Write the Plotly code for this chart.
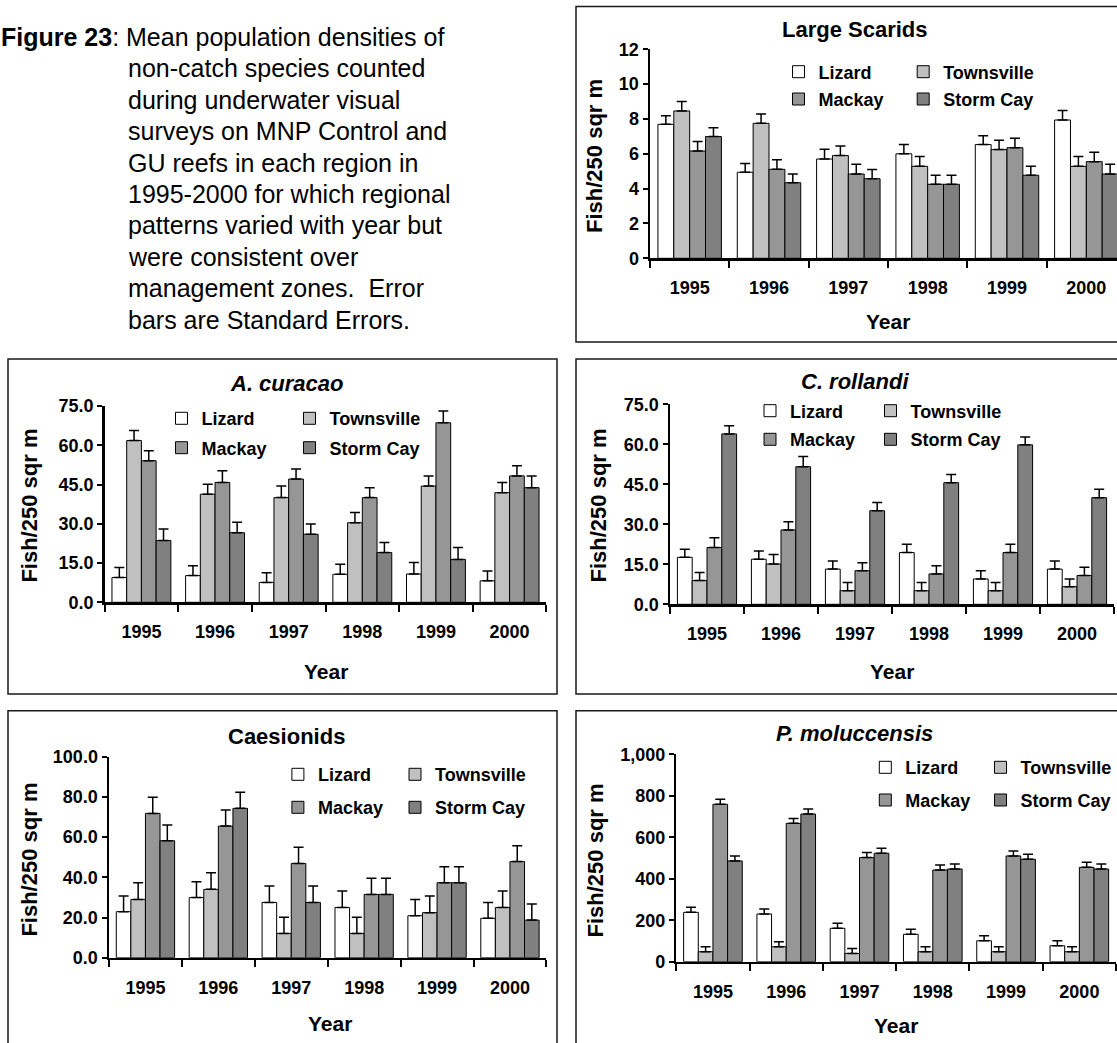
import plotly.graph_objects as go

W, H = 1117, 1043
FONT = "Liberation Sans, Arial, sans-serif"

years = ["1995", "1996", "1997", "1998", "1999", "2000"]
regions = ["Lizard", "Townsville", "Mackay", "Storm Cay"]
region_colors = ["#ffffff", "#c0c0c0", "#969696", "#808080"]

# ---- Large Scarids ----
scarids_lizard = [7.69, 4.94, 5.70, 6.00, 6.53, 7.94]
scarids_townsville = [8.46, 7.75, 5.90, 5.28, 6.24, 5.28]
scarids_mackay = [6.16, 5.11, 4.84, 4.25, 6.35, 5.55]
scarids_stormcay = [6.99, 4.34, 4.57, 4.25, 4.77, 4.84]
scarids_se_lizard = [0.50, 0.51, 0.56, 0.53, 0.51, 0.54]
scarids_se_townsville = [0.54, 0.54, 0.55, 0.56, 0.54, 0.56]
scarids_se_mackay = [0.54, 0.55, 0.56, 0.52, 0.54, 0.54]
scarids_se_stormcay = [0.51, 0.50, 0.53, 0.52, 0.51, 0.56]

# ---- A. curacao ----
curacao_lizard = [9.5, 10.2, 7.6, 10.7, 10.8, 8.2]
curacao_townsville = [61.8, 41.3, 40.0, 30.4, 44.4, 41.9]
curacao_mackay = [54.1, 45.8, 47.1, 40.0, 68.6, 48.3]
curacao_stormcay = [23.6, 26.6, 26.0, 19.0, 16.4, 43.8]
curacao_se_lizard = [3.8, 3.8, 3.7, 3.8, 4.4, 3.8]
curacao_se_townsville = [3.8, 3.8, 4.4, 3.9, 3.9, 3.9]
curacao_se_mackay = [3.8, 4.5, 3.8, 3.8, 4.5, 3.9]
curacao_se_stormcay = [4.4, 4.0, 3.9, 3.8, 4.5, 4.5]

# ---- C. rollandi ----
rollandi_lizard = [17.6, 16.9, 13.2, 19.4, 9.5, 13.2]
rollandi_townsville = [8.9, 15.1, 5.1, 5.1, 5.1, 6.6]
rollandi_mackay = [21.3, 27.9, 12.6, 11.4, 19.4, 10.8]
rollandi_stormcay = [63.9, 51.6, 35.1, 45.6, 59.8, 40.0]
rollandi_se_lizard = [3.0, 3.1, 3.0, 3.1, 3.1, 3.0]
rollandi_se_townsville = [3.0, 3.6, 3.1, 3.1, 3.1, 2.9]
rollandi_se_mackay = [3.7, 3.1, 3.0, 3.1, 3.1, 3.1]
rollandi_se_stormcay = [3.1, 3.8, 3.1, 3.1, 2.9, 3.1]

# ---- Caesionids ----
caesionids_lizard = [22.9, 29.9, 27.5, 25.0, 20.9, 19.6]
caesionids_townsville = [29.0, 34.0, 12.1, 12.1, 22.4, 25.0]
caesionids_mackay = [71.8, 65.5, 46.9, 31.5, 37.3, 47.8]
caesionids_stormcay = [58.2, 74.3, 27.5, 31.5, 37.3, 18.7]
caesionids_se_lizard = [7.8, 7.9, 8.2, 8.2, 8.1, 7.9]
caesionids_se_townsville = [8.3, 8.3, 8.0, 8.0, 8.3, 8.2]
caesionids_se_mackay = [8.0, 8.0, 8.0, 8.0, 8.0, 7.9]
caesionids_se_stormcay = [7.8, 8.0, 8.2, 8.0, 8.0, 8.0]

# ---- P. moluccensis ----
moluccensis_lizard = [238, 230, 161, 132, 101, 77]
moluccensis_townsville = [48, 72, 40, 48, 48, 48]
moluccensis_mackay = [759, 667, 502, 442, 510, 455]
moluccensis_stormcay = [486, 712, 523, 447, 494, 447]
moluccensis_se_lizard = [24, 24, 24, 24, 24, 24]
moluccensis_se_townsville = [24, 24, 24, 24, 24, 24]
moluccensis_se_mackay = [24, 24, 24, 24, 24, 24]
moluccensis_se_stormcay = [24, 24, 24, 24, 24, 24]

caption_lines = [
    "non-catch species counted",
    "during underwater visual",
    "surveys on MNP Control and",
    "GU reefs in each region in",
    "1995-2000 for which regional",
    "patterns varied with year but",
    "were consistent over",
    "management zones.&nbsp; Error",
    "bars are Standard Errors.",
]

panels = [
    dict(title="<b>Large Scarids</b>",
         means=[scarids_lizard, scarids_townsville, scarids_mackay, scarids_stormcay],
         ses=[scarids_se_lizard, scarids_se_townsville, scarids_se_mackay, scarids_se_stormcay],
         ymax=12, dtick=2, fmt="d",
         box=(576, 6.5, 1140, 342), px=(650, 1126), py=(49.3, 258.3),
         tpos=(854.6, 30), xt=(888, 321.7), yt=(594, 156),
         leg=(803.5, 928.2), legy=71.7, legsp=27.3),
    dict(title="<b><i>A. curacao</i></b>",
         means=[curacao_lizard, curacao_townsville, curacao_mackay, curacao_stormcay],
         ses=[curacao_se_lizard, curacao_se_townsville, curacao_se_mackay, curacao_se_stormcay],
         ymax=75, dtick=15, fmt=".1f",
         box=(8, 359, 557, 694), px=(104.6, 546.4), py=(406, 602.3),
         tpos=(287, 383), xt=(325.7, 671), yt=(28.6, 506),
         leg=(186.5, 314.5), legy=418.3, legsp=29.4),
    dict(title="<b><i>C. rollandi</i></b>",
         means=[rollandi_lizard, rollandi_townsville, rollandi_mackay, rollandi_stormcay],
         ses=[rollandi_se_lizard, rollandi_se_townsville, rollandi_se_mackay, rollandi_se_stormcay],
         ymax=75, dtick=15, fmt=".1f",
         box=(576, 359, 1140, 694), px=(670, 1114), py=(404.3, 604.3),
         tpos=(855, 381.7), xt=(892, 671.7), yt=(597.5, 506),
         leg=(775, 895.5), legy=410.7, legsp=28.6),
    dict(title="<b>Caesionids</b>",
         means=[caesionids_lizard, caesionids_townsville, caesionids_mackay, caesionids_stormcay],
         ses=[caesionids_se_lizard, caesionids_se_townsville, caesionids_se_mackay, caesionids_se_stormcay],
         ymax=100, dtick=20, fmt=".1f",
         box=(8, 710.7, 557, 1060), px=(109, 546.4), py=(756.7, 957.7),
         tpos=(286.8, 736.7), xt=(330, 1023), yt=(28.6, 860),
         leg=(302.9, 420), legy=774.3, legsp=33),
    dict(title="<b><i>P. moluccensis</i></b>",
         means=[moluccensis_lizard, moluccensis_townsville, moluccensis_mackay, moluccensis_stormcay],
         ses=[moluccensis_se_lizard, moluccensis_se_townsville, moluccensis_se_mackay, moluccensis_se_stormcay],
         ymax=1000, dtick=200, fmt=",d",
         box=(576, 710.7, 1140, 1060), px=(676.3, 1116), py=(754.3, 961.7),
         tpos=(854.3, 733.3), xt=(895.8, 1025), yt=(595.7, 860.8),
         leg=(890.3, 1005.5), legy=767.3, legsp=32.7),
]

fig = go.Figure()
layout = dict(
    width=W, height=H,
    margin=dict(l=0, r=0, t=0, b=0, pad=0, autoexpand=False),
    paper_bgcolor="white", plot_bgcolor="white",
    barmode="group", bargap=0.2, bargroupgap=0,
    font=dict(family=FONT, color="black"),
    showlegend=True,
)
shapes = []
annotations = []

def fx(p):
    return p / W

def fy(p):
    return 1 - p / H

for i, pn in enumerate(panels):
    k = i + 1
    xa = "x" if k == 1 else f"x{k}"
    ya = "y" if k == 1 else f"y{k}"
    xk = "xaxis" if k == 1 else f"xaxis{k}"
    yk = "yaxis" if k == 1 else f"yaxis{k}"
    lg_a = f"legend{2 * i + 1}" if i > 0 else "legend"
    lg_b = f"legend{2 * i + 2}"
    for j, reg in enumerate(regions):
        fig.add_trace(go.Bar(
            x=years, y=pn["means"][j], name=reg,
            xaxis=xa, yaxis=ya,
            legend=lg_a if j in (0, 2) else lg_b,
            legendgroup=f"p{k}_{reg}",
            marker=dict(color=region_colors[j], line=dict(color="black", width=1)),
            error_y=dict(type="data", array=pn["ses"][j], arrayminus=[0] * len(years),
                         symmetric=False, color="black", thickness=1.5, width=5),
        ))
    x0, x1 = pn["px"]
    ytop, y0 = pn["py"]
    xend = min(x1, W)
    rng_end = -0.5 + len(years) * (xend - x0) / (x1 - x0)
    layout[xk] = dict(
        domain=[fx(x0), fx(xend)], anchor=ya, type="category",
        range=[-0.5, rng_end], tickson="boundaries",
        ticks="outside", ticklen=7, tickwidth=2, tickcolor="black",
        showline=True, linecolor="black", linewidth=2.5,
        showgrid=False, zeroline=False, fixedrange=True, automargin=False,
        tickfont=dict(family=FONT, size=18, weight="bold"),
        ticklabelstandoff=12,
    )
    layout[yk] = dict(
        domain=[fy(y0), fy(ytop)], anchor=xa,
        range=[0, pn["ymax"]], dtick=pn["dtick"], tick0=0, tickformat=pn["fmt"],
        ticks="outside", ticklen=5, tickwidth=2, tickcolor="black",
        showline=True, linecolor="black", linewidth=2.5,
        showgrid=False, zeroline=False, fixedrange=True, automargin=False,
        tickfont=dict(family=FONT, size=18, weight="bold"),
        ticklabelstandoff=0,
    )
    for lg, sx in ((lg_a, pn["leg"][0]), (lg_b, pn["leg"][1])):
        layout[lg] = dict(
            x=fx(sx - 25), y=fy(pn["legy"] - 18.2), xanchor="left", yanchor="top",
            orientation="v", bgcolor="rgba(0,0,0,0)", borderwidth=0,
            traceorder="grouped", tracegroupgap=max(pn["legsp"] - 26.4, 0),
            font=dict(family=FONT, size=18, weight="bold", color="black"),
        )
    bx0, by0, bx1, by1 = pn["box"]
    shapes.append(dict(type="rect", xref="paper", yref="paper", layer="below",
                       x0=fx(bx0), x1=fx(bx1), y0=fy(by1), y1=fy(by0),
                       line=dict(color="#1a1a1a", width=1.5)))
    annotations.append(dict(text=pn["title"], xref="paper", yref="paper",
                            x=fx(pn["tpos"][0]), y=fy(pn["tpos"][1]),
                            xanchor="center", yanchor="middle", showarrow=False,
                            font=dict(family=FONT, size=22, color="black")))
    annotations.append(dict(text="<b>Year</b>", xref="paper", yref="paper",
                            x=fx(pn["xt"][0]), y=fy(pn["xt"][1]),
                            xanchor="center", yanchor="middle", showarrow=False,
                            font=dict(family=FONT, size=21, color="black")))
    annotations.append(dict(text="<b>Fish/250 sqr m</b>", xref="paper", yref="paper",
                            x=fx(pn["yt"][0]), y=fy(pn["yt"][1]), textangle=-90,
                            xanchor="center", yanchor="middle", showarrow=False,
                            font=dict(family=FONT, size=22, color="black")))

# caption
CAP_Y0, CAP_DY, CAP_X = 37, 31.4, 126
annotations.append(dict(text="<b>Figure 23</b>: Mean population densities of",
                        xref="paper", yref="paper", x=fx(-1), y=fy(CAP_Y0),
                        xanchor="left", yanchor="middle", showarrow=False,
                        font=dict(family=FONT, size=25, color="black")))
for n, line in enumerate(caption_lines):
    annotations.append(dict(text=line, xref="paper", yref="paper",
                            x=fx(CAP_X), y=fy(CAP_Y0 + (n + 1) * CAP_DY),
                            xanchor="left", yanchor="middle", showarrow=False,
                            font=dict(family=FONT, size=25, color="black")))

layout["shapes"] = shapes
layout["annotations"] = annotations
fig.update_layout(**layout)
fig.write_html("out.html",
               config={"displayModeBar": False, "staticPlot": True},
               post_script="document.body.style.margin='0';document.body.style.overflow='hidden';")
